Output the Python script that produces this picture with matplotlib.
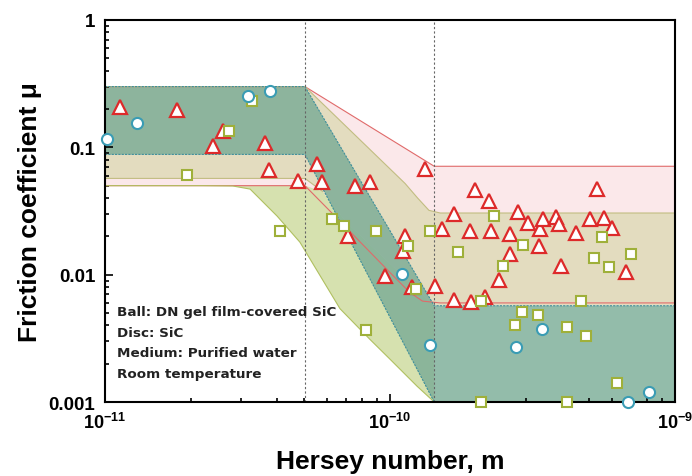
import numpy as np
import matplotlib
matplotlib.use("Agg")
import matplotlib.pyplot as plt

plt.rcParams['font.family'] = ['Liberation Sans', 'DejaVu Sans']
plt.rcParams['mathtext.fontset'] = 'custom'
plt.rcParams['mathtext.rm'] = 'Liberation Sans'
plt.rcParams['mathtext.bf'] = 'Liberation Sans:bold'

# transition Hersey numbers (dashed lines)
hs_lo = 5.03e-11
hs_hi = 1.43e-10

# bands: upper / lower boundaries (Hersey number, mu)
teal_up_x = [1e-11, hs_lo, hs_hi, 1e-9]
teal_up_y = [0.3, 0.3, 0.0057, 0.0057]
teal_lo_x = [1e-11, hs_lo, hs_hi, 1e-9]
teal_lo_y = [0.088, 0.088, 0.001, 0.001]

pink_up_x = [1e-11, hs_lo, hs_hi, 1e-9]
pink_up_y = [0.3, 0.3, 0.071, 0.071]
pink_lo_x = [1e-11, hs_lo, 6.3e-11, 1e-10, 1.17e-10, 1.3e-10, 1.5e-10, 1e-9]
pink_lo_y = [0.05, 0.05, 0.030, 0.0104, 0.0073, 0.0062, 0.006, 0.006]

beige_up_x = [1e-11, hs_lo, 1.13e-10, 1.25e-10, 1.37e-10, 1.5e-10, 1e-9]
beige_up_y = [0.3, 0.3, 0.052, 0.040, 0.032, 0.0305, 0.0305]
beige_lo_x = [1e-11, hs_lo, 5.8e-11, 7e-11, hs_hi, 1e-9]
beige_lo_y = [0.057, 0.057, 0.045, 0.026, 0.0057, 0.0057]

green_up_x = [1e-11, hs_lo, 5.8e-11, 7e-11, hs_hi]
green_up_y = [0.05, 0.05, 0.045, 0.026, 0.0057]
green_lo_x = [1e-11, 2.2e-11, 2.81e-11, 3.23e-11, 4.02e-11, 4.83e-11, 6.68e-11,
              8.51e-11, 1e-10, 1.245e-10, hs_hi]
green_lo_y = [0.05, 0.05, 0.0497, 0.047, 0.0288, 0.018, 0.0054,
              0.0031, 0.00217, 0.00133, 0.001]

# measurements
tri_x = [1.13e-11, 1.79e-11, 2.39e-11, 2.59e-11, 3.64e-11, 3.76e-11, 4.75e-11, 5.54e-11,
         5.77e-11, 7.54e-11, 8.51e-11, 7.12e-11, 9.6e-11, 1.13e-10, 1.11e-10, 1.195e-10,
         1.327e-10, 1.438e-10, 1.52e-10, 1.677e-10, 1.909e-10, 1.987e-10, 2.225e-10,
         2.26e-10, 2.154e-10, 1.677e-10, 1.923e-10, 2.41e-10, 2.636e-10, 2.636e-10,
         2.81e-10, 3.05e-10, 3.36e-10, 3.44e-10, 3.33e-10, 3.82e-10, 3.92e-10, 3.98e-10,
         4.5e-10, 5.03e-10, 5.33e-10, 5.64e-10, 6.01e-10, 6.73e-10]
tri_y = [0.207, 0.196, 0.102, 0.134, 0.108, 0.0663, 0.0544, 0.0739,
         0.0534, 0.0497, 0.0534, 0.0201, 0.00975, 0.0201, 0.0153, 0.0080,
         0.0676, 0.00813, 0.0228, 0.0299, 0.0220, 0.0462, 0.0379,
         0.0220, 0.00667, 0.00632, 0.0061, 0.00907, 0.0145, 0.0208,
         0.0310, 0.0254, 0.0228, 0.0273, 0.0168, 0.0283, 0.0250, 0.0117,
         0.0212, 0.0273, 0.0470, 0.0278, 0.0232, 0.0105]

sq_x = [1.94e-11, 2.72e-11, 3.28e-11, 4.11e-11, 6.26e-11, 6.9e-11, 8.24e-11, 8.93e-11,
        1.157e-10, 1.234e-10, 1.38e-10, 1.732e-10, 2.085e-10, 2.085e-10, 2.317e-10,
        2.49e-10, 2.745e-10, 2.90e-10, 2.93e-10, 3.30e-10, 4.18e-10, 4.18e-10,
        4.68e-10, 4.87e-10, 5.2e-10, 5.54e-10, 5.87e-10, 6.26e-10, 7.01e-10]
sq_y = [0.0606, 0.134, 0.231, 0.0220, 0.0273, 0.0241, 0.00367, 0.0220,
        0.0168, 0.0077, 0.0220, 0.0151, 0.0062, 0.001, 0.0289,
        0.0117, 0.00402, 0.00508, 0.0171, 0.00482, 0.00388, 0.001,
        0.0062, 0.0033, 0.0135, 0.0197, 0.0115, 0.00141, 0.0145]

circ_x = [1.02e-11, 1.295e-11, 3.17e-11, 3.79e-11, 1.10e-10, 1.38e-10, 2.77e-10,
          3.41e-10, 6.84e-10, 8.11e-10]
circ_y = [0.116, 0.155, 0.253, 0.277, 0.0101, 0.0028, 0.0027,
          0.00374, 0.001, 0.0012]

notes = ["Ball: DN gel film-covered SiC", "Disc: SiC",
         "Medium: Purified water", "Room temperature"]


def band(ax, ux, uy, lx, ly, color, alpha=1.0, z=1):
    px = list(ux) + list(lx)[::-1]
    py = list(uy) + list(ly)[::-1]
    ax.fill(px, py, color=color, alpha=alpha, lw=0, zorder=z)


fig = plt.figure(figsize=(6.92, 4.77), dpi=100)
ax = fig.add_axes([0.1517, 0.1551, 0.8237, 0.8009])
ax.set_xscale('log')
ax.set_yscale('log')
ax.set_xlim(1e-11, 1e-9)
ax.set_ylim(0.001, 1)

band(ax, pink_up_x, pink_up_y, pink_lo_x, pink_lo_y, '#fbe8ea', z=1)
band(ax, green_up_x, green_up_y, green_lo_x, green_lo_y, '#d6e1af', z=1.1)
band(ax, beige_up_x, beige_up_y, beige_lo_x, beige_lo_y, '#e3dcbf', z=1.2)
band(ax, teal_up_x, teal_up_y, teal_lo_x, teal_lo_y, '#78ab95', alpha=0.8, z=1.3)

ax.plot(pink_up_x, pink_up_y, color='#e06a6a', lw=0.8, zorder=2)
ax.plot(pink_lo_x, pink_lo_y, color='#e06a6a', lw=0.8, zorder=2)
ax.plot(beige_up_x, beige_up_y, color='#c2bd82', lw=0.8, zorder=2)
ax.plot(beige_lo_x[:3], beige_lo_y[:3], color='#c2bd82', lw=0.8, zorder=2)
ax.plot(green_lo_x, green_lo_y, color='#b0c060', lw=0.8, zorder=2)
ax.plot(teal_up_x, teal_up_y, color='#3f8f9c', lw=0.8, ls=(0, (2, 1)), zorder=2.1)
ax.plot(teal_lo_x, teal_lo_y, color='#3f8f9c', lw=0.8, ls=(0, (2, 1)), zorder=2.1)

for xv in (hs_lo, hs_hi):
    ax.axvline(xv, color='#666666', lw=0.8, ls=(0, (2, 2)), zorder=2.2)

ax.plot(tri_x, tri_y, ls='none', marker='^', ms=10, mfc='white', mec='#dd2a2a',
        mew=1.6, zorder=4, clip_on=False)
ax.plot(sq_x, sq_y, ls='none', marker='s', ms=7.5, mfc='white', mec='#9fb03a',
        mew=1.5, zorder=4, clip_on=False)
ax.plot(circ_x, circ_y, ls='none', marker='o', ms=8, mfc='white', mec='#3a9cb4',
        mew=1.5, zorder=4, clip_on=False)

for i, t in enumerate(notes):
    ax.text(0.021, 0.236 - i * 0.0535, t, transform=ax.transAxes, fontsize=9.7,
            fontweight='bold', family='DejaVu Sans', color='#222222',
            va='center', ha='left', zorder=5)

for s in ax.spines.values():
    s.set_linewidth(1.5)
ax.tick_params(which='both', direction='in', top=False, right=False, width=1.2)
ax.tick_params(which='major', length=6, pad=7)
ax.tick_params(which='minor', length=3)

ax.set_yticks([0.001, 0.01, 0.1, 1])
ax.set_yticklabels(['0.001', '0.01', '0.1', '1'], fontsize=13.5, fontweight='bold')
ax.set_xticks([1e-11, 1e-10, 1e-9])
ax.set_xticklabels([r'$\mathbf{10^{-11}}$', r'$\mathbf{10^{-10}}$', r'$\mathbf{10^{-9}}$'],
                   fontsize=13)

ax.set_ylabel('Friction coefficient μ', fontsize=19, fontweight='bold', labelpad=5)
ax.set_xlabel('Hersey number, m', fontsize=19, fontweight='bold', labelpad=12)

fig.savefig('out.png', dpi=100)
